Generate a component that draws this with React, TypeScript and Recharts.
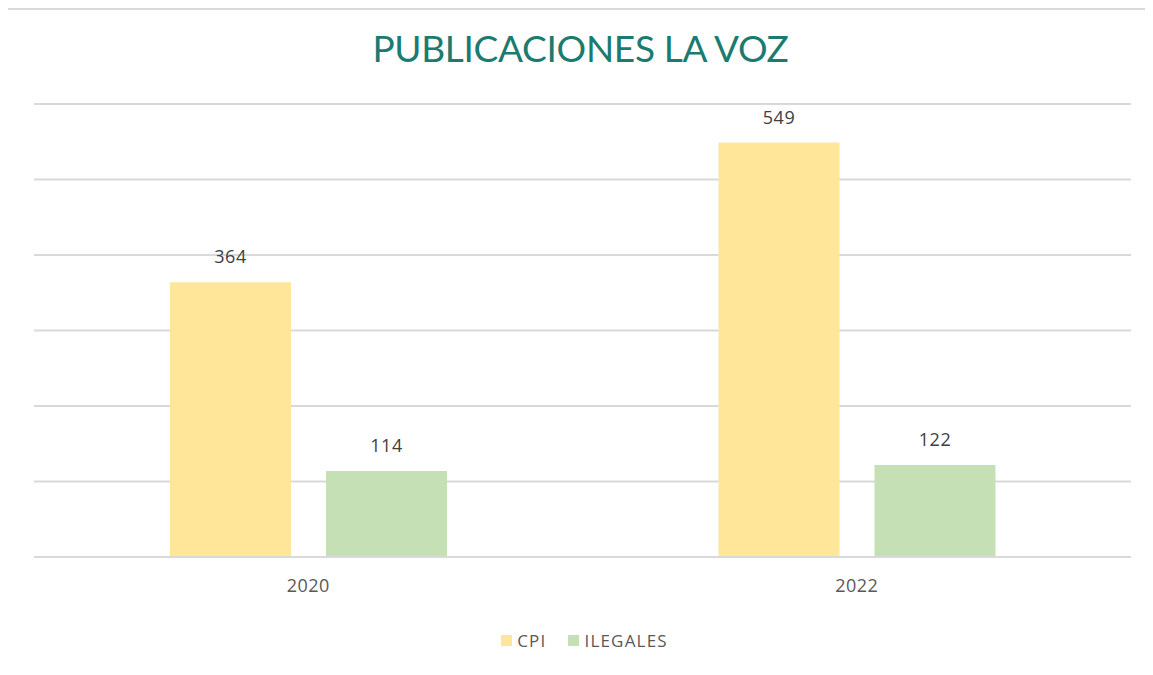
import React from 'react';
import { BarChart, Bar, XAxis, YAxis, CartesianGrid, Legend, LabelList } from 'recharts';

const years = ['2020', '2022'];
const cpiValues = [364, 549];
const ilegalesValues = [114, 122];
const yTicks = [0, 100, 200, 300, 400, 500, 600];
const title = 'PUBLICACIONES LA VOZ';

const data = years.map((y, i) => ({ year: y, CPI: cpiValues[i], ILEGALES: ilegalesValues[i] }));

const FONT = '"Open Sans", "DejaVu Sans", sans-serif';

const renderLegend = (props: any) => {
  const { payload } = props;
  return (
    <div style={{ display: 'flex', justifyContent: 'center', alignItems: 'center', fontFamily: FONT, fontSize: 17, letterSpacing: 1.2, color: '#595959', paddingLeft: 4 }}>
      {payload.map((p: any, i: number) => (
        <div key={i} style={{ display: 'flex', alignItems: 'center', marginRight: i === 0 ? 22 : 0 }}>
          <span style={{ width: 11, height: 11, background: p.color, display: 'inline-block', marginRight: 5 }} />
          <span>{p.value}</span>
        </div>
      ))}
    </div>
  );
};

export default function App() {
  return (
    <div style={{ position: 'relative', width: 1145, height: 665, background: '#fff' }}>
      <div style={{ position: 'absolute', left: -2, top: 0, width: 1147, height: 2, background: '#d9d9d9' }} />
      <div style={{ position: 'absolute', left: -2, top: 0, width: 2, height: 667, background: '#d9d9d9' }} />
      <div style={{ position: 'absolute', top: 17, left: 0, width: 1145, textAlign: 'center', fontFamily: 'Lato, sans-serif', fontSize: 37, color: '#1b7b70', letterSpacing: -0.3 }}>
        {title}
      </div>
      <div style={{ position: 'absolute', top: 2, left: 0 }}>
        <BarChart width={1145} height={665} data={data} margin={{ top: 94, right: 22, left: 26, bottom: 64 }} barGap={35} barSize={121}>
          <CartesianGrid horizontal={true} vertical={false} stroke="#d9d9d9" strokeWidth={2} />
          <YAxis hide domain={[0, 600]} ticks={yTicks} />
          <XAxis dataKey="year" axisLine={{ stroke: '#d9d9d9', strokeWidth: 2 }} tickLine={false} tickMargin={16} height={30} tick={{ fill: '#595959', fontSize: 18, fontFamily: FONT, letterSpacing: 0.5 }} />
          <Legend content={renderLegend} verticalAlign="bottom" height={24} wrapperStyle={{ bottom: 22 }} />
          <Bar dataKey="CPI" fill="#ffe699" isAnimationActive={false}>
            <LabelList dataKey="CPI" position="top" offset={19} style={{ fill: '#404040', fontSize: 18, fontFamily: FONT, letterSpacing: 0.5 }} />
          </Bar>
          <Bar dataKey="ILEGALES" fill="#c5e0b4" isAnimationActive={false}>
            <LabelList dataKey="ILEGALES" position="top" offset={19} style={{ fill: '#404040', fontSize: 18, fontFamily: FONT, letterSpacing: 0.5 }} />
          </Bar>
        </BarChart>
      </div>
    </div>
  );
}
